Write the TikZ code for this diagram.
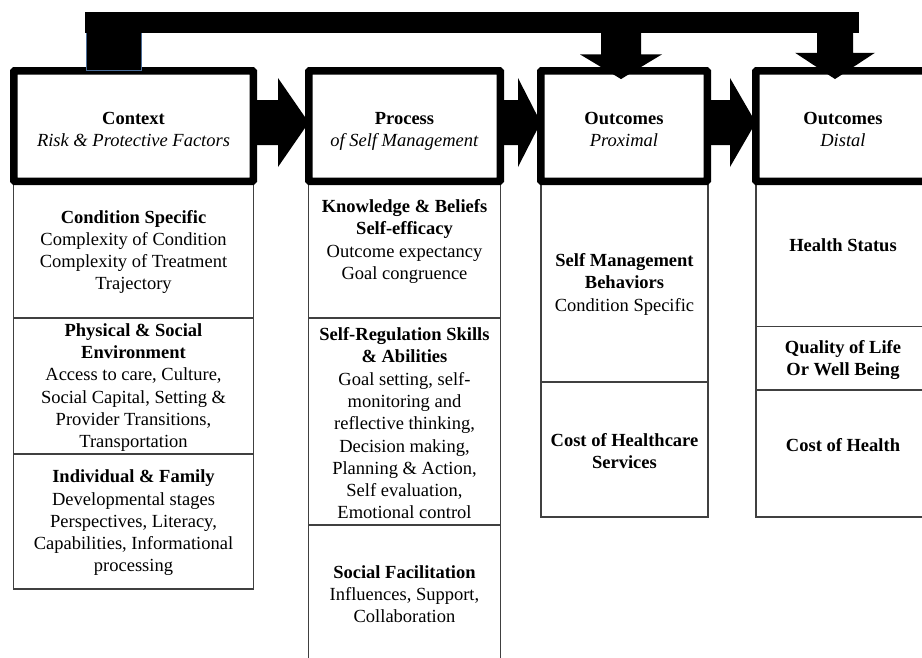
\documentclass[tikz,border=0pt]{standalone}
\usepackage{fontspec}
\setmainfont{Liberation Serif}
\usetikzlibrary{calc}
\definecolor{edgeblue}{HTML}{4A6B96}
\begin{document}
\begin{tikzpicture}[x=1pt,y=-1pt,
  hdr/.style={draw=black, line width=7.5pt, rounded corners=1pt, fill=white,
              minimum height=110.5pt, inner sep=0pt, outer sep=0pt},
  cell/.style={draw=black!75, line width=1.3pt, inner sep=0pt, outer sep=0pt},
  txt/.style={align=center, inner sep=0pt, font=\fontsize{18.5}{22.3}\selectfont},
  blk/.style={fill=black}]
\useasboundingbox (0,0) rectangle (922,657);
\clip (0,0) rectangle (922,657);

% lower cells
\node[cell, minimum width=240pt, minimum height=137pt] (c1) at (133.5,249.5) {};
\node[cell, minimum width=240pt, minimum height=136pt] (c2) at (133.5,386) {};
\node[cell, minimum width=240pt, minimum height=135pt] (c3) at (133.5,521.5) {};
\node[cell, minimum width=192pt, minimum height=137pt] (p1) at (404.5,249.5) {};
\node[cell, minimum width=192pt, minimum height=207pt] (p2) at (404.5,421.5) {};
\node[cell, minimum width=192pt, minimum height=155pt] (p3) at (404.5,602.5) {};
\node[cell, minimum width=167pt, minimum height=201pt] (x1) at (624.5,281.5) {};
\node[cell, minimum width=167pt, minimum height=135pt] (x2) at (624.5,449.5) {};
\node[cell, minimum width=174pt, minimum height=145.5pt] (d1) at (843,253.75) {};
\node[cell, minimum width=174pt, minimum height=63.5pt] (d2) at (843,358.25) {};
\node[cell, minimum width=174pt, minimum height=127pt] (d3) at (843,453.5) {};

% header boxes
\node[hdr, minimum width=239.5pt] (ctx) at (133.5,126) {};
\node[hdr, minimum width=191.5pt] (proc) at (404.5,126) {};
\node[hdr, minimum width=166.5pt] (prox) at (624,126) {};
\node[hdr, minimum width=174.25pt] (dist) at (842.9,126) {};

% horizontal block arrows
\fill[blk] (ctx.east |- 0,100) -- (278,100) -- (278,78) -- (proc.west |- 0,122.5)
  -- (278,167) -- (278,145) -- (ctx.east |- 0,145) -- cycle;
\fill[blk] (proc.east |- 0,100) -- (518,100) -- (518,78) -- (prox.west |- 0,122.5)
  -- (518,167) -- (518,145) -- (proc.east |- 0,145) -- cycle;
\fill[blk] (prox.east |- 0,100) -- (730,100) -- (730,78) -- (dist.west |- 0,122.5)
  -- (730,167) -- (730,145) -- (prox.east |- 0,145) -- cycle;

% feedback bar
\fill[blk] (85,11.7) rectangle (859.3,33);
\fill[blk] (86,32) rectangle (141,70.7);
\draw[edgeblue, line width=1pt] (86,33) -- (86,70.7) -- (141,70.7) -- (141,33);
\fill[blk] ($(prox.north)+(-3,8.3)$) -- ++(-41,-24.7) -- ++(21,0) -- ++(0,-21.8)
  -- ++(40,0) -- ++(0,21.8) -- ++(21,0) -- cycle;
\fill[blk] ($(dist.north)+(-7.9,8.3)$) -- ++(-40,-26.3) -- ++(22,0) -- ++(0,-20.2)
  -- ++(36,0) -- ++(0,20.2) -- ++(22,0) -- cycle;

% header texts
\node[txt] (ctxT) at (133.5,129.2) {\textbf{Context}\\\textit{Risk \& Protective Factors}};
\node[txt] (procT) at (404.5,131.2) {\textbf{Process}\\\textit{of Self Management}};
\node[txt] (proxT) at (624,129.2) {\textbf{Outcomes}\\\textit{Proximal}};
\node[txt] (distT) at (843,129.2) {\textbf{Outcomes}\\\textit{Distal}};

% cell texts
\node[txt] (c1T) at (133.5,252) {\textbf{Condition Specific}\\Complexity of Condition\\Complexity of Treatment\\Trajectory};
\node[txt] (c2T) at (133.5,387.4) {\textbf{Physical \& Social}\\\textbf{Environment}\\Access to care, Culture,\\Social Capital, Setting \&\\Provider Transitions,\\Transportation};
\node[txt] (c3T) at (133.5,522.9) {\textbf{Individual \& Family}\\Developmental stages\\Perspectives, Literacy,\\Capabilities, Informational\\processing};
\node[txt] (p1T) at (404.5,241.5) {\textbf{Knowledge \& Beliefs}\\\textbf{Self-efficacy}\\Outcome expectancy\\Goal congruence};
\node[txt] (p2T) at (404.5,423.3) {\textbf{Self-Regulation Skills}\\\textbf{\& Abilities}\\Goal setting, self-\\monitoring and\\reflective thinking,\\Decision making,\\Planning \& Action,\\Self evaluation,\\Emotional control};
\node[txt] (p3T) at (404.5,594) {\textbf{Social Facilitation}\\Influences, Support,\\Collaboration};
\node[txt] (x1T) at (624.5,284.2) {\textbf{Self Management}\\\textbf{Behaviors}\\Condition Specific};
\node[txt] (x2T) at (624.5,451.3) {\textbf{Cost of Healthcare}\\\textbf{Services}};
\node[txt] (d1T) at (843,245) {\textbf{Health Status}};
\node[txt] (d2T) at (843,360) {\textbf{Quality of Life}\\\textbf{Or Well Being}};
\node[txt] (d3T) at (843,445) {\textbf{Cost of Health}};
\end{tikzpicture}
\end{document}
